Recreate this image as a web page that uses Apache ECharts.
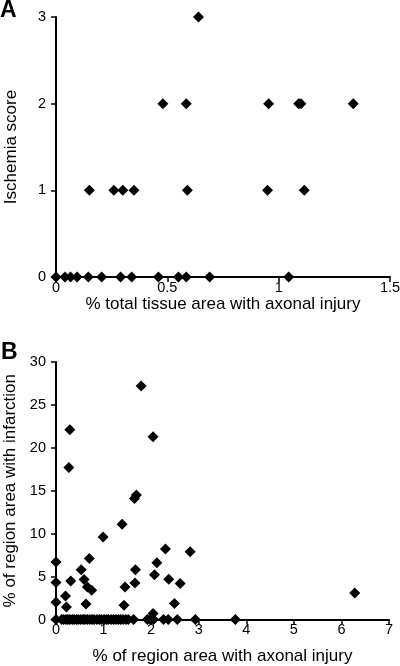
<!DOCTYPE html>
<html>
<head>
<meta charset="utf-8">
<script src="https://cdn.jsdelivr.net/npm/echarts@6/dist/echarts.min.js"></script>
<style>
html,body{margin:0;padding:0;background:#fff;}
#c{width:400px;height:666px;}
</style>
</head>
<body>
<div id="c"></div>
<script>
// Panel A: % total tissue area with axonal injury vs Ischemia score
const A_x = [0.64,
  0.48, 0.585, 0.955, 1.09, 1.10, 1.335,
  0.15, 0.26, 0.30, 0.35, 0.59, 0.95, 1.115,
  0, 0.04, 0.065, 0.095, 0.145, 0.205, 0.29, 0.34, 0.46, 0.55, 0.585, 0.69, 1.045];
const A_y = [3,
  2, 2, 2, 2, 2, 2,
  1, 1, 1, 1, 1, 1, 1,
  0, 0, 0, 0, 0, 0, 0, 0, 0, 0, 0, 0, 0];
const A_xTicks = [0, 0.5, 1, 1.5];
const A_yTicks = [0, 1, 2, 3];

// Panel B: % of region area with axonal injury vs % of region area with infarction
const B_x = [0.29, 0.27, 1.79, 2.04, 1.65, 1.69, 1.39, 0.99,
  0.70, 0.53, 0.59, 0.66, 0.75, 0.63, 0, 0, 0, 0.20, 0.22, 0.31,
  2.30, 2.82, 2.12, 1.67, 2.07, 2.37, 2.61, 1.66, 1.45, 1.43, 2.49, 2.04, 6.28,
  0, 0.12, 0.16, 0.21, 0.25, 0.29, 0.34, 0.38, 0.43, 0.47, 0.52, 0.57, 0.61, 0.66,
  0.71, 0.76, 0.80, 0.86, 0.91, 0.95, 1.01, 1.06, 1.10, 1.16, 1.21, 1.26, 1.31,
  1.36, 1.41, 1.47, 1.52, 1.63,
  1.92, 1.98, 2.05, 2.26, 2.36, 2.55, 2.93, 3.77];
const B_y = [22.1, 17.7, 27.2, 21.3, 14.1, 14.5, 11.1, 9.6,
  7.1, 5.8, 4.65, 3.8, 3.4, 1.8, 6.7, 4.3, 2.0, 2.75, 1.45, 4.5,
  8.2, 7.9, 6.6, 5.8, 5.2, 4.7, 4.2, 4.25, 3.8, 1.66, 1.86, 0.7, 3.1,
  0, 0, 0, 0, 0, 0, 0, 0, 0, 0, 0, 0, 0, 0,
  0, 0, 0, 0, 0, 0, 0, 0, 0, 0, 0, 0, 0,
  0, 0, 0, 0, 0,
  0, 0, 0, 0, 0, 0, 0, 0];
const B_xTicks = [0, 1, 2, 3, 4, 5, 6, 7];
const B_yTicks = [0, 5, 10, 15, 20, 25, 30];

const FONT = 'Liberation Sans, Arial, Helvetica, sans-serif';
const pairs = (xs, ys) => xs.map((x, i) => [x, ys[i]]);

function axisCommon() {
  return {
    axisLine: {show: true, onZero: false, lineStyle: {color: '#000', width: 2}},
    axisTick: {show: true, inside: false, length: 5, lineStyle: {color: '#000', width: 1.5}},
    splitLine: {show: false},
    nameTextStyle: {color: '#000', fontSize: 17, fontFamily: FONT},
  };
}
const tickLabel = (margin) => ({color: '#000', fontSize: 14.5, fontFamily: FONT, margin: margin, showMinLabel: true, showMaxLabel: true});

const chart = echarts.init(document.getElementById('c'), null, {renderer: 'canvas'});
chart.setOption({
  animation: false,
  backgroundColor: '#fff',
  title: [
    {text: 'A', left: 0, top: -1, textStyle: {fontSize: 23, fontWeight: 'bold', color: '#000', fontFamily: FONT}, padding: 0},
    {text: 'B', left: 1, top: 341, textStyle: {fontSize: 23, fontWeight: 'bold', color: '#000', fontFamily: FONT}, padding: 0}
  ],
  grid: [
    {left: 56, right: 10, top: 17, height: 260, containLabel: false, outerBoundsMode: 'none'},
    {left: 56, right: 11, top: 362, height: 257.5, containLabel: false, outerBoundsMode: 'none'}
  ],
  xAxis: [
    Object.assign(axisCommon(), {
      gridIndex: 0, type: 'value', min: A_xTicks[0], max: A_xTicks[A_xTicks.length - 1], interval: 0.5,
      name: '% total tissue area with axonal injury', nameLocation: 'middle', nameGap: 19,
      axisLabel: tickLabel(3)
    }),
    Object.assign(axisCommon(), {
      gridIndex: 1, type: 'value', min: B_xTicks[0], max: B_xTicks[B_xTicks.length - 1], interval: 1,
      name: '% of region area with axonal injury', nameLocation: 'middle', nameGap: 28,
      axisLabel: tickLabel(3)
    })
  ],
  yAxis: [
    Object.assign(axisCommon(), {
      gridIndex: 0, type: 'value', min: A_yTicks[0], max: A_yTicks[A_yTicks.length - 1], interval: 1,
      name: 'Ischemia score', nameLocation: 'middle', nameGap: 36,
      axisLabel: tickLabel(10)
    }),
    Object.assign(axisCommon(), {
      gridIndex: 1, type: 'value', min: B_yTicks[0], max: B_yTicks[B_yTicks.length - 1], interval: 5,
      name: '% of region area with infarction', nameLocation: 'middle', nameGap: 34,
      axisLabel: tickLabel(10)
    })
  ],
  series: [
    {type: 'scatter', xAxisIndex: 0, yAxisIndex: 0, symbol: 'diamond', symbolSize: 11,
     itemStyle: {color: '#000', opacity: 1}, data: pairs(A_x, A_y), clip: false},
    {type: 'scatter', xAxisIndex: 1, yAxisIndex: 1, symbol: 'diamond', symbolSize: 11,
     itemStyle: {color: '#000', opacity: 1}, data: pairs(B_x, B_y), clip: false}
  ]
});
</script>
</body>
</html>
